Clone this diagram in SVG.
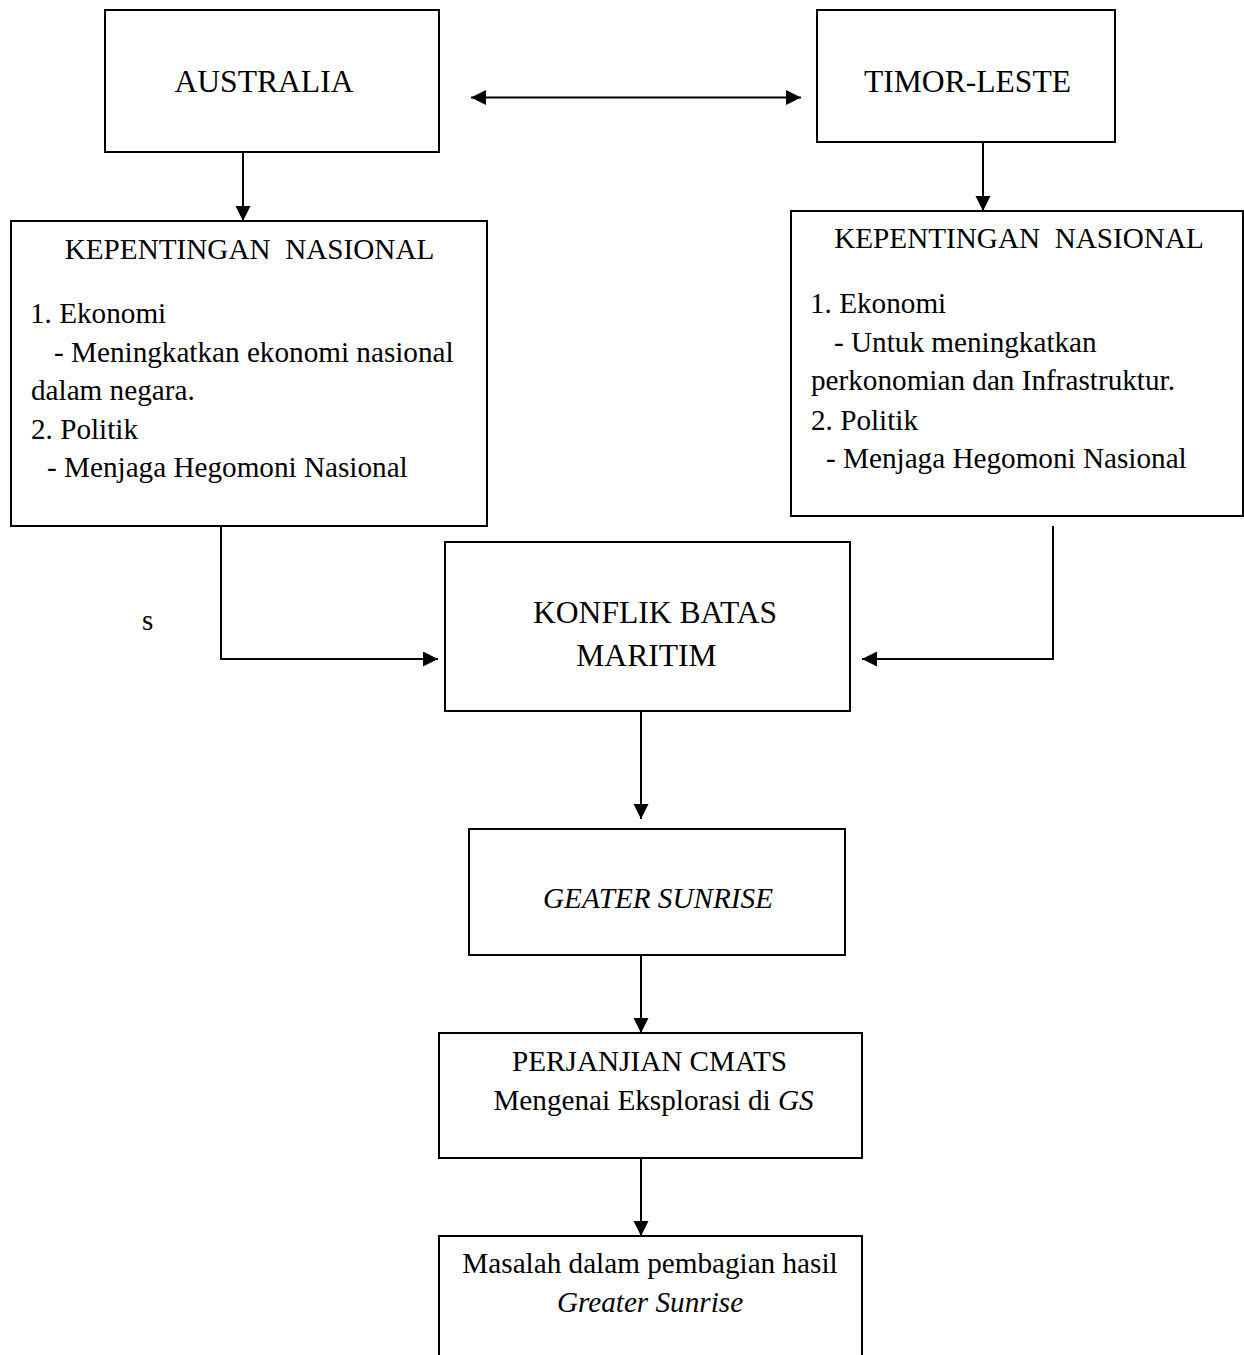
<svg xmlns="http://www.w3.org/2000/svg" width="1244" height="1355" viewBox="0 0 1244 1355">
<style>
  .box { fill: #ffffff; stroke: #000000; stroke-width: 2; }
  .conn { fill: none; stroke: #000000; stroke-width: 2; }
  text { font-family: "Liberation Serif", "Times New Roman", serif; fill: #000000; }
  .big { font-size: 31.6px; }
  .t { font-size: 29.2px; }
  .mid { text-anchor: middle; }
  .pre { white-space: pre; }
  .it { font-style: italic; }
</style>
<defs>
  <marker id="arr" markerUnits="userSpaceOnUse" markerWidth="16" markerHeight="16" refX="15" refY="7.5" orient="auto-start-reverse" viewBox="0 0 16 16">
    <path d="M0,0 L15,7.5 L0,15 z" fill="#000000"/>
  </marker>
</defs>
<rect width="1244" height="1355" fill="#ffffff"/>

<g id="connectors">
  <line class="conn" x1="471" y1="97.5" x2="801" y2="97.5" marker-start="url(#arr)" marker-end="url(#arr)"/>
  <line class="conn" x1="243" y1="152" x2="243" y2="221" marker-end="url(#arr)"/>
  <line class="conn" x1="983" y1="142" x2="983" y2="211" marker-end="url(#arr)"/>
  <path class="conn" d="M221,526 V659 H438" marker-end="url(#arr)"/>
  <path class="conn" d="M1053,526 V659 H862" marker-end="url(#arr)"/>
  <line class="conn" x1="641" y1="711" x2="641" y2="819" marker-end="url(#arr)"/>
  <line class="conn" x1="641" y1="955" x2="641" y2="1033" marker-end="url(#arr)"/>
  <line class="conn" x1="641" y1="1158" x2="641" y2="1236" marker-end="url(#arr)"/>
</g>

<g id="australia">
  <rect class="box" x="105" y="10" width="334" height="142"/>
  <text class="big mid" x="264" y="92">AUSTRALIA</text>
</g>

<g id="timor-leste">
  <rect class="box" x="817" y="10" width="298" height="132"/>
  <text class="big mid" x="967.5" y="92">TIMOR-LESTE</text>
</g>

<g id="kepentingan-australia">
  <rect class="box" x="11" y="221" width="476" height="305"/>
  <text class="t mid pre" x="249.5" y="259">KEPENTINGAN  NASIONAL</text>
  <text class="t" x="30" y="323">1. Ekonomi</text>
  <text class="t" x="54" y="362">- Meningkatkan ekonomi nasional</text>
  <text class="t" x="31" y="400">dalam negara.</text>
  <text class="t" x="31" y="439">2. Politik</text>
  <text class="t" x="47" y="477">- Menjaga Hegomoni Nasional</text>
</g>

<g id="kepentingan-timor">
  <rect class="box" x="791" y="211" width="452" height="305"/>
  <text class="t mid pre" x="1019" y="248">KEPENTINGAN  NASIONAL</text>
  <text class="t" x="810" y="313">1. Ekonomi</text>
  <text class="t" x="834" y="352">- Untuk meningkatkan</text>
  <text class="t" x="811" y="390">perkonomian dan Infrastruktur.</text>
  <text class="t" x="811" y="430">2. Politik</text>
  <text class="t" x="826" y="468">- Menjaga Hegomoni Nasional</text>
</g>

<g id="label-s">
  <text class="t" x="142" y="630">s</text>
</g>

<g id="konflik">
  <rect class="box" x="445" y="542" width="405" height="169"/>
  <text class="big mid" x="655" y="623">KONFLIK BATAS</text>
  <text class="big mid" x="646.5" y="666">MARITIM</text>
</g>

<g id="geater-sunrise">
  <rect class="box" x="469" y="829" width="376" height="126"/>
  <text class="t mid it" x="658" y="908">GEATER SUNRISE</text>
</g>

<g id="perjanjian">
  <rect class="box" x="439" y="1033" width="423" height="125"/>
  <text class="t mid" x="649.5" y="1071">PERJANJIAN CMATS</text>
  <text class="t mid" x="653.5" y="1110">Mengenai Eksplorasi di <tspan class="it">GS</tspan></text>
</g>

<g id="masalah">
  <rect class="box" x="439" y="1236" width="423" height="140"/>
  <text class="t mid" x="650" y="1273">Masalah dalam pembagian hasil</text>
  <text class="t mid it" x="650" y="1312">Greater Sunrise</text>
</g>
</svg>
